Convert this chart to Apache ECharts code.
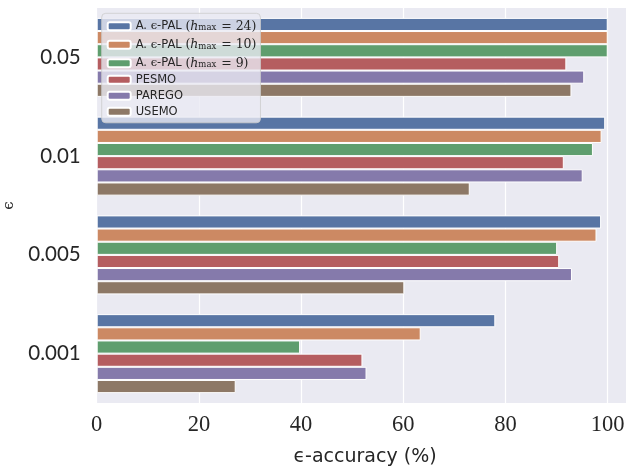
<!DOCTYPE html>
<html>
<head>
<meta charset="utf-8">
<script src="https://cdn.jsdelivr.net/npm/echarts@6/dist/echarts.min.js"></script>
<style>
  html, body { margin: 0; padding: 0; background: #ffffff; }
  #chart { width: 626px; height: 467px; }
</style>
</head>
<body>
<div id="chart"></div>
<script>
// Tolerance levels (categories, top to bottom)
const epsilons = ['0.05', '0.01', '0.005', '0.001'];

// ε-accuracy (%) per method, in the order of epsilons
const palH24 = [100, 99.5, 98.7, 78.0];
const palH10 = [100, 98.8, 97.8, 63.4];
const palH9 = [100, 97.1, 90.1, 39.8];
const pesmo = [91.9, 91.4, 90.5, 52.0];
const parego = [95.4, 95.1, 93.0, 52.8];
const usemo = [92.9, 73.0, 60.2, 27.2];

const xTicks = [0, 20, 40, 60, 80, 100];

const methods = [
  { name: 'A. ϵ-PAL (hmax = 24)', data: palH24, color: '#5875a4', label: '{s|A. }{m|ϵ}{s|-PAL }{r|(}{i|h}{sub|max}{r| = 24)}' },
  { name: 'A. ϵ-PAL (hmax = 10)', data: palH10, color: '#cc8963', label: '{s|A. }{m|ϵ}{s|-PAL }{r|(}{i|h}{sub|max}{r| = 10)}' },
  { name: 'A. ϵ-PAL (hmax = 9)', data: palH9, color: '#5f9e6e', label: '{s|A. }{m|ϵ}{s|-PAL }{r|(}{i|h}{sub|max}{r| = 9)}' },
  { name: 'PESMO', data: pesmo, color: '#b55d60', label: '{s|PESMO}' },
  { name: 'PAREGO', data: parego, color: '#857aab', label: '{s|PAREGO}' },
  { name: 'USEMO', data: usemo, color: '#8d7866', label: '{s|USEMO}' }
];
const legendLabels = {};
methods.forEach(m => { legendLabels[m.name] = m.label; });

const chart = echarts.init(document.getElementById('chart'), null, { renderer: 'canvas' });

const textColor = '#262626';
const sansFont = 'DejaVu Sans';
const serifFont = 'DejaVu Serif';

chart.setOption({
  animation: false,
  backgroundColor: '#ffffff',
  grid: {
    left: 96.7, top: 8, right: -7.3, bottom: 64,
    outerBoundsMode: 'none', containLabel: false,
    backgroundColor: '#eaeaf2', show: true, borderWidth: 0
  },
  legend: {
    orient: 'vertical',
    left: 101.7,
    top: 13.3,
    padding: [5, 4, 5, 5],
    itemWidth: 23,
    itemHeight: 8,
    itemGap: 4,
    backgroundColor: 'rgba(234,234,242,0.8)',
    borderColor: 'rgba(204,204,204,0.8)',
    borderWidth: 1,
    borderRadius: 4,
    data: methods.map(m => m.name),
    formatter: name => legendLabels[name],
    textStyle: {
      color: textColor,
      fontSize: 11.5,
      rich: {
        s: { fontFamily: sansFont, fontSize: 11.5, lineHeight: 12, color: textColor },
        m: { fontFamily: serifFont, fontSize: 11.5, lineHeight: 12, color: textColor },
        r: { fontFamily: serifFont, fontSize: 12.5, lineHeight: 12, color: textColor },
        i: { fontFamily: serifFont, fontStyle: 'italic', fontSize: 12.5, lineHeight: 12, color: textColor },
        sub: { fontFamily: serifFont, fontSize: 8.5, lineHeight: 12, verticalAlign: 'bottom', padding: [5, 1, 0, 0], color: textColor }
      }
    }
  },
  xAxis: {
    type: 'value',
    min: 0,
    max: 105,
    interval: 20,
    name: 'ϵ-accuracy (%)',
    nameLocation: 'middle',
    nameGap: 45,
    nameTextStyle: { fontFamily: sansFont, fontSize: 19, color: textColor },
    axisLine: { show: false },
    axisTick: { show: false },
    axisLabel: {
      margin: 11,
      fontFamily: 'Liberation Serif',
      fontSize: 22.5,
      color: textColor,
      formatter: v => (xTicks.indexOf(v) >= 0 ? String(v) : '')
    },
    splitLine: { show: true, lineStyle: { color: '#ffffff', width: 1.2 } }
  },
  yAxis: {
    type: 'category',
    data: epsilons,
    inverse: true,
    name: 'ϵ',
    nameLocation: 'middle',
    nameGap: 80,
    nameTextStyle: { fontFamily: serifFont, fontSize: 15, color: textColor },
    axisLine: { show: false },
    axisTick: { show: false },
    axisLabel: { margin: 16, fontFamily: 'Lato', fontSize: 20.5, color: textColor },
    splitLine: { show: false }
  },
  series: methods.map(m => ({
    name: m.name,
    type: 'bar',
    data: m.data,
    barGap: '0%',
    barCategoryGap: '20%',
    itemStyle: { color: m.color, borderColor: '#ffffff', borderWidth: 1 }
  }))
});
</script>
</body>
</html>
